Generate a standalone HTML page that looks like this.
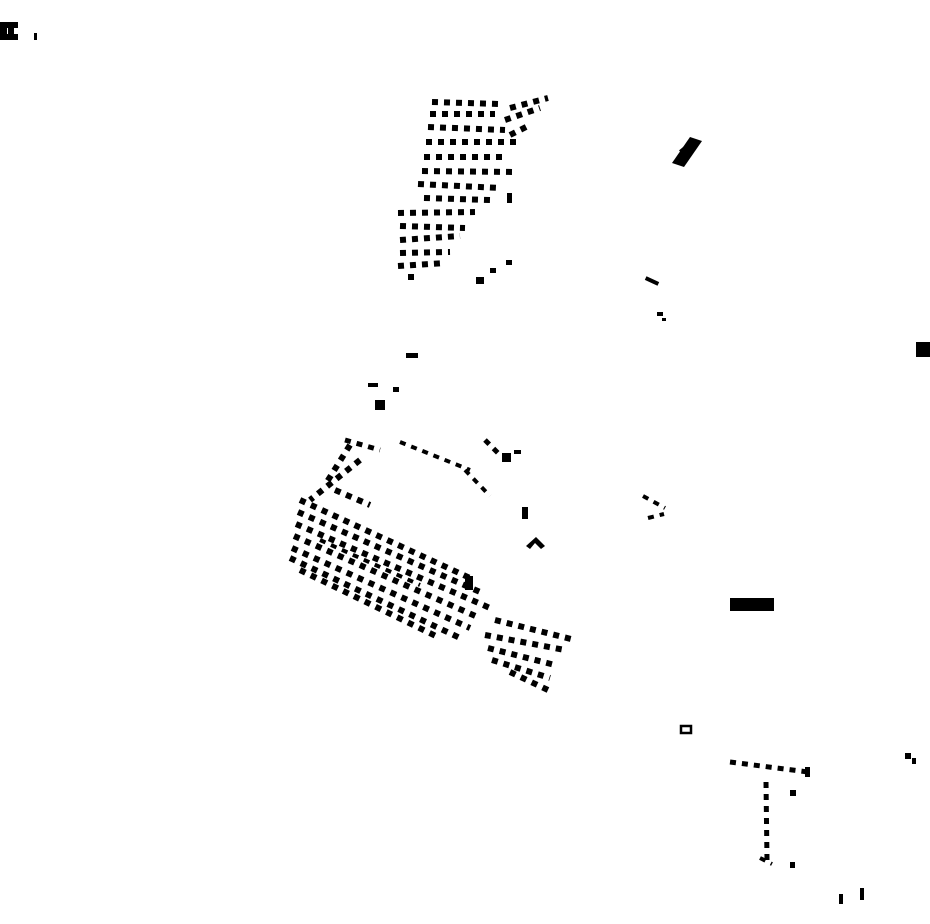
<!DOCTYPE html>
<html><head><meta charset="utf-8"><style>html,body{margin:0;padding:0;background:#fff}svg{display:block}</style></head>
<body>
<svg width="930" height="924" viewBox="0 0 930 924" xmlns="http://www.w3.org/2000/svg">
<g fill="#000">
<!-- top-left C mark -->
<rect x="0" y="22" width="18" height="6"/><rect x="0" y="22" width="7" height="18"/><rect x="0" y="34" width="18" height="6"/><rect x="8" y="26" width="6" height="8"/>
<rect x="34" y="33" width="3" height="7"/>
<!-- isolated -->
<polygon points="672,163 690,137 702,141 684,167"/><rect x="680" y="145" width="14" height="8" transform="rotate(-40 687 149)"/>
<rect x="645" y="279" width="14" height="4" transform="rotate(25 652 281)"/>
<rect x="657" y="312" width="6" height="4"/><rect x="662" y="318" width="4" height="3"/>
<rect x="916" y="342" width="14" height="15"/>
<rect x="406" y="353" width="12" height="5"/>
<rect x="368" y="383" width="10" height="4"/><rect x="393" y="387" width="6" height="5"/><rect x="375" y="400" width="10" height="10"/>
<rect x="502" y="453" width="9" height="9"/><rect x="514" y="450" width="7" height="4"/>
<rect x="522" y="507" width="6" height="12"/>
<polygon points="526,546 536,537 545,546 541,549 535,543 530,549"/>
<rect x="730" y="598" width="44" height="13"/>
<rect x="681" y="726" width="10" height="7" fill="none" stroke="#000" stroke-width="2.5"/>
<rect x="790" y="790" width="6" height="6"/><rect x="805" y="767" width="5" height="10"/>
<rect x="905" y="753" width="6" height="6"/><rect x="912" y="758" width="4" height="6"/>
<rect x="839" y="894" width="4" height="10"/><rect x="860" y="888" width="4" height="12"/>
<rect x="476" y="277" width="8" height="7"/><rect x="490" y="268" width="6" height="5"/><rect x="506" y="260" width="6" height="5"/>
<rect x="507" y="193" width="5" height="10"/>
<rect x="790" y="862" width="5" height="6"/>
</g>
<g stroke="#000" fill="none" stroke-width="6" stroke-dasharray="6 6">
<!-- top cluster rows -->
<line x1="432" y1="102" x2="500" y2="104"/><line x1="510" y1="108" x2="548" y2="98"/>
<line x1="430" y1="114" x2="495" y2="114"/><line x1="505" y1="120" x2="540" y2="108"/>
<line x1="428" y1="127" x2="505" y2="130"/><line x1="510" y1="135" x2="530" y2="125"/>
<line x1="426" y1="142" x2="520" y2="142"/>
<line x1="424" y1="157" x2="505" y2="157"/>
<line x1="422" y1="171" x2="515" y2="172"/>
<line x1="418" y1="184" x2="500" y2="188"/>
<line x1="424" y1="198" x2="490" y2="200"/>
<line x1="398" y1="213" x2="475" y2="212"/>
<line x1="400" y1="226" x2="465" y2="228"/>
<line x1="400" y1="240" x2="460" y2="236"/>
<line x1="400" y1="253" x2="450" y2="252"/>
<line x1="398" y1="266" x2="445" y2="263"/>
<line x1="408" y1="277" x2="416" y2="277"/>
<!-- upper strip -->
<line x1="400" y1="442" x2="470" y2="470" stroke-width="4"/>
<line x1="465" y1="470" x2="490" y2="496" stroke-width="4"/>
<line x1="485" y1="440" x2="500" y2="455" stroke-width="5"/>
<line x1="345" y1="440" x2="380" y2="450" stroke-width="5"/>
<!-- left upper part of big cluster -->
<line x1="350" y1="445" x2="325" y2="485"/><line x1="360" y1="460" x2="310" y2="500"/>
<line x1="335" y1="490" x2="370" y2="505"/>
<!-- main band -->
<line x1="300" y1="500" x2="470" y2="578"/>
<line x1="298" y1="512" x2="480" y2="592"/>
<line x1="296" y1="524" x2="490" y2="608"/>
<line x1="294" y1="536" x2="480" y2="618"/>
<line x1="292" y1="548" x2="470" y2="628"/>
<line x1="290" y1="558" x2="460" y2="638"/>
<line x1="300" y1="570" x2="440" y2="638"/>
<line x1="320" y1="540" x2="420" y2="585" stroke-width="4"/>
<rect x="465" y="576" width="8" height="14" fill="#000" stroke="none"/>
<!-- right block -->
<line x1="495" y1="620" x2="575" y2="640"/>
<line x1="485" y1="635" x2="565" y2="650"/>
<line x1="488" y1="648" x2="555" y2="665"/>
<line x1="492" y1="660" x2="550" y2="678"/>
<line x1="510" y1="672" x2="548" y2="690"/>
<!-- right middle -->
<line x1="643" y1="496" x2="665" y2="508" stroke-width="4"/>
<line x1="648" y1="518" x2="664" y2="514" stroke-width="4"/>
<!-- bottom right settlement -->
<line x1="730" y1="762" x2="808" y2="772" stroke-width="5"/>
<line x1="766" y1="782" x2="767" y2="860" stroke-width="5"/>
<line x1="760" y1="858" x2="772" y2="864" stroke-width="4"/>
</g>
</svg>
</body></html>
